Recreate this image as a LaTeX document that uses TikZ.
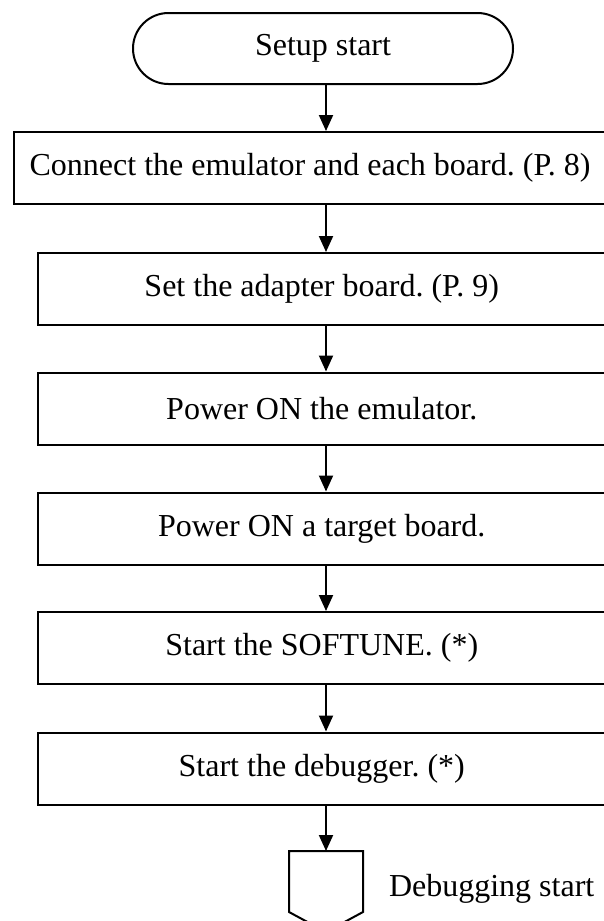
\documentclass[tikz,border=0pt]{standalone}
\usepackage{fontspec}
\setmainfont{Liberation Serif}
\frenchspacing
\usetikzlibrary{arrows.meta,shapes.misc}
\begin{document}
\begin{tikzpicture}[x=1pt,y=-1pt,line width=2pt,
    every node/.style={font=\fontsize{32}{36}\selectfont},
    box/.style={draw,rectangle,minimum width=568.5pt,minimum height=72pt,inner sep=0pt},
    flow/.style={-{Triangle[length=16pt,width=14pt]}}]
    % page frame (the boxes run past the right edge)
    \useasboundingbox (0,0) rectangle (604,921);
    \clip (0,0) rectangle (604,921);
    % line of the arrows
    \coordinate (axis) at (326,0);

    % start
    \node[draw,rounded rectangle,minimum width=380pt,minimum height=71pt,inner sep=0pt] (start) at (323,48.5) {Setup start};

    % steps
    \node[box,minimum width=592pt] (b1) at (310,168) {Connect the emulator and each board. (P. 8)};
    \foreach \n/\y/\t in {b2/289/{Set the adapter board. (P. 9)},
                          b3/408.5/{Power ON the emulator.},
                          b4/528.5/{Power ON a target board.},
                          b5/648/{Start the SOFTUNE. (*)},
                          b6/768.5/{Start the debugger. (*)}}
    \node[box] (\n) at (321.75,\y) {\t};

    % off-page connector
    \node[minimum width=72pt,minimum height=79pt,inner sep=0pt] (dbg) at (326,891.5) {};
    \draw (dbg.north west) -- (dbg.north east) -- ([yshift=20pt]dbg.south east)
        -- (dbg.south) -- ([yshift=20pt]dbg.south west) -- cycle;
    \node[anchor=west,inner sep=0pt] (dbglbl) at ([xshift=25pt,yshift=3pt]dbg.east) {Debugging start};

    % arrows
    \draw[flow] (start.south -| axis) -- (b1.north -| axis);
    \foreach \a/\b in {b1/b2,b2/b3,b3/b4,b4/b5,b5/b6,b6/dbg}
    \draw[flow] (\a.south -| axis) -- (\b.north -| axis);
\end{tikzpicture}
\end{document}
